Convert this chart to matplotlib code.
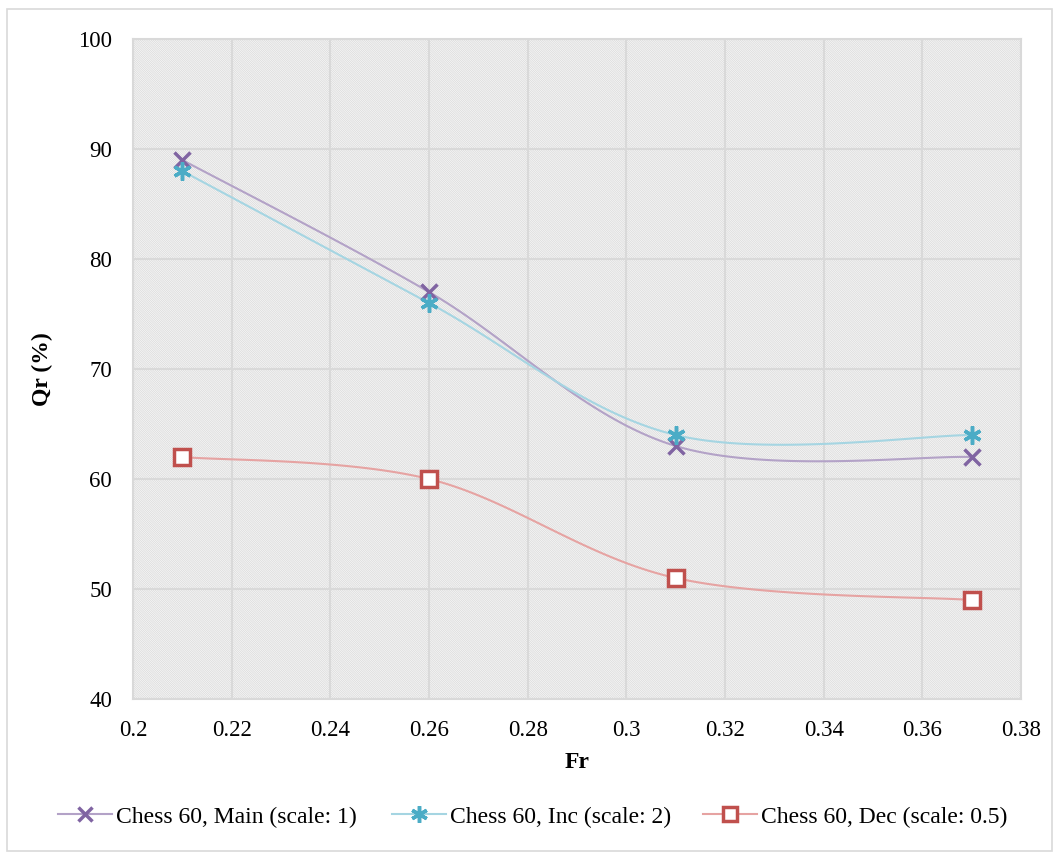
import numpy as np
import matplotlib
matplotlib.use("Agg")
import matplotlib.pyplot as plt
from matplotlib.patches import Rectangle
from matplotlib.lines import Line2D

plt.rcParams['font.family'] = ['Liberation Serif', 'DejaVu Serif']
plt.rcParams['hatch.color'] = '#d6d6d6'
plt.rcParams['hatch.linewidth'] = 0.5

fr = [0.21, 0.26, 0.31, 0.37]
main_qr = [89, 77, 63, 62]
inc_qr = [88, 76, 64, 64]
dec_qr = [62, 60, 51, 49]

series = [
    ("Chess 60, Main (scale: 1)", main_qr, '#b3a2c7', '#8064a2', 'x'),
    ("Chess 60, Inc (scale: 2)", inc_qr, '#a5d5e2', '#4bacc6', 'star'),
    ("Chess 60, Dec (scale: 0.5)", dec_qr, '#e6a3a2', '#c0504d', 's'),
]

MARKERS = {'x': ('x', 11), 'star': ((6, 2, 0), 13), 's': ('s', 11)}

fig = plt.figure(figsize=(10.59, 8.59), dpi=100)
ax = fig.add_axes([133/1059, 1 - 699/859, (1021-133)/1059, (699-39)/859])
ax.set_xlim(0.2, 0.38)
ax.set_ylim(40, 100)

# patterned plot background
ax.add_patch(Rectangle((0, 0), 1, 1, transform=ax.transAxes, facecolor='white',
                       edgecolor='#d6d6d6', hatch='\\' * 18,
                       linewidth=0, zorder=0))

ax.set_xticks(np.arange(0.2, 0.3801, 0.02))
ax.set_xticklabels(['0.2', '0.22', '0.24', '0.26', '0.28', '0.3', '0.32', '0.34', '0.36', '0.38'])
ax.set_yticks(np.arange(40, 101, 10))
ax.grid(True, color='#d9d9d9', linewidth=1.5, zorder=1)
ax.tick_params(axis='x', length=0, labelsize=16.5, pad=15)
ax.tick_params(axis='y', length=0, labelsize=16.5, pad=15)
for s in ax.spines.values():
    s.set_color('#d9d9d9')
    s.set_linewidth(1.5)


def smooth(xs, ys, n=40):
    # Bezier curve through the points (Catmull-Rom tangents), built in pixel-like space
    x0, x1 = ax.get_xlim()
    y0, y1 = ax.get_ylim()
    w, h = 888.0, 660.0
    P = np.column_stack([(np.array(xs) - x0) / (x1 - x0) * w,
                         (np.array(ys) - y0) / (y1 - y0) * h])
    out = []
    t = np.linspace(0, 1, n)[:, None]
    for i in range(len(P) - 1):
        p0 = P[i - 1] if i > 0 else P[i]
        p3 = P[i + 2] if i + 2 < len(P) else P[i + 1]
        b0, b3 = P[i], P[i + 1]
        b1 = b0 + (b3 - p0) / 6
        b2 = b3 - (p3 - b0) / 6
        seg = ((1 - t) ** 3) * b0 + 3 * ((1 - t) ** 2) * t * b1 + 3 * (1 - t) * t ** 2 * b2 + t ** 3 * b3
        out.append(seg if i == 0 else seg[1:])
    C = np.vstack(out)
    return C[:, 0] / w * (x1 - x0) + x0, C[:, 1] / h * (y1 - y0) + y0


legend_x = [58, 392, 703]
for (label, ys, lc, mc, mk), lx in zip(series, legend_x):
    sx, sy = smooth(fr, ys)
    ax.plot(sx, sy, color=lc, linewidth=1.5, zorder=3)
    m, ms = MARKERS[mk]
    ax.plot(fr, ys, linestyle='none', marker=m, markersize=ms, markerfacecolor='white',
            markeredgecolor=mc, markeredgewidth=2.5, zorder=4)
    h = Line2D([], [], color=lc, linewidth=1.5, marker=m, markersize=ms - 1,
               markerfacecolor='white', markeredgecolor=mc, markeredgewidth=2.5)
    fig.legend([h], [label], loc='center left',
               bbox_to_anchor=(lx / 1059, 1 - 817/859), frameon=False, fontsize=17,
               handlelength=2.3, handletextpad=0.15, borderpad=0, borderaxespad=0)

ax.set_xlabel('Fr', fontsize=17, fontweight='bold', labelpad=8)
ax.set_ylabel('Qr (%)', fontsize=17, fontweight='bold', labelpad=18)

# outer chart border
fig.add_artist(Rectangle((7/1059, 1 - 851/859), 1045/1059, 842/859, transform=fig.transFigure,
                         fill=False, edgecolor='#d9d9d9', linewidth=1.2))

fig.savefig('out.png', dpi=100)
